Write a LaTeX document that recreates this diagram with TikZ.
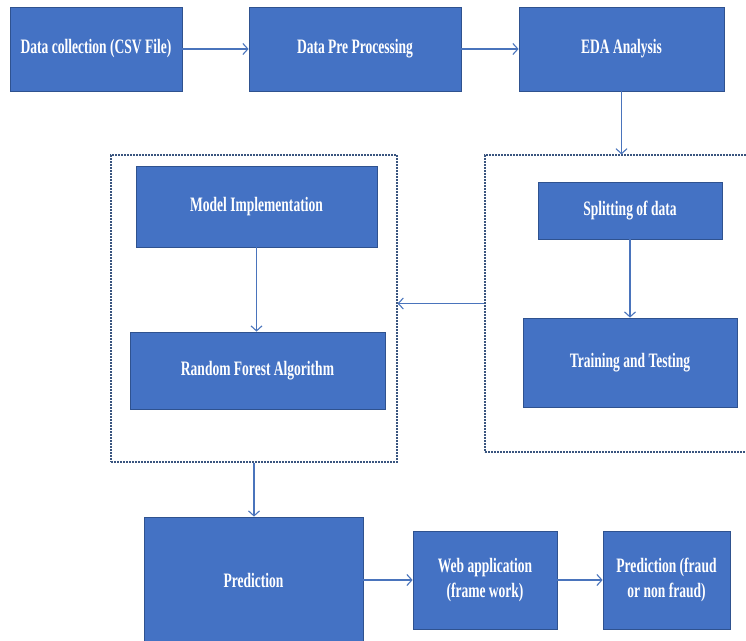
\documentclass[tikz,border=0pt]{standalone}
\usepackage{fontspec}
\setmainfont{Liberation Serif}[FakeStretch=0.66]
\usetikzlibrary{arrows.meta}
\definecolor{boxblue}{HTML}{4472C4}
\definecolor{boxedge}{HTML}{2F528F}
\definecolor{arrowclr}{HTML}{4A74BC}
\definecolor{frameclr}{HTML}{3A557F}
\begin{document}
\begin{tikzpicture}[x=1pt,y=-1pt,
  blk/.style={draw=boxedge, fill=boxblue, text=white, font=\bfseries\fontsize{20.5}{25}\selectfont, align=center, inner sep=2pt, line width=0.8pt},
  frm/.style={draw=frameclr, line width=1.1pt, dash pattern=on 2pt off 1pt, fill=none},
  arr/.style={draw=arrowclr, line width=1.1pt, -{Straight Barb[length=5pt,width=11pt]}}]
\useasboundingbox (0,0) rectangle (746,640);
\clip (0,0) rectangle (746,640);
% top row
\node[blk, minimum width=172pt, minimum height=84pt] (dc) at (96,49) {Data collection (CSV File)};
\node[blk, minimum width=212pt, minimum height=84pt] (dpp) at (355,49) {Data Pre Processing};
\node[blk, minimum width=205pt, minimum height=84pt] (eda) at (621.5,49) {EDA Analysis};
% frames
\node[frm, minimum width=286pt, minimum height=307pt] (lframe) at (254,308.5) {};
\node[frm, minimum width=270pt, minimum height=297pt] (rframe) at (620,303.5) {};
% right group
\node[blk, minimum width=184pt, minimum height=57pt] (split) at (630,210.5) {Splitting of data};
\node[blk, minimum width=214pt, minimum height=89pt] (train) at (630,362.5) {Training and Testing};
% left group
\node[blk, minimum width=241pt, minimum height=81pt] (mi) at (256.5,206.5) {Model Implementation};
\node[blk, minimum width=255pt, minimum height=77pt] (rf) at (257.5,370.5) {Random Forest Algorithm};
% bottom row
\node[blk, minimum width=219pt, minimum height=126pt] (pred) at (253.5,580) {Prediction};
\node[blk, minimum width=144pt, minimum height=98pt] (web) at (485,580) {Web application\\(frame work)};
\node[blk, minimum width=127pt, minimum height=98pt] (pf) at (666.5,580) {Prediction (fraud\\or non fraud)};
% connectors
\draw[arr] (dc) -- (dpp);
\draw[arr] (dpp) -- (eda);
\draw[arr] (eda.south) -- (eda.south |- rframe.north);
\draw[arr] (split) -- (train);
\draw[arr] (rframe.west) -- (rframe.west -| lframe.east);
\draw[arr] (mi.south) -- (mi.south |- rf.north);
\draw[arr] (lframe.south) -- (lframe.south |- pred.north);
\draw[arr] (pred.east) -- (pred.east -| web.west);
\draw[arr] (web) -- (pf);
\end{tikzpicture}
\end{document}
